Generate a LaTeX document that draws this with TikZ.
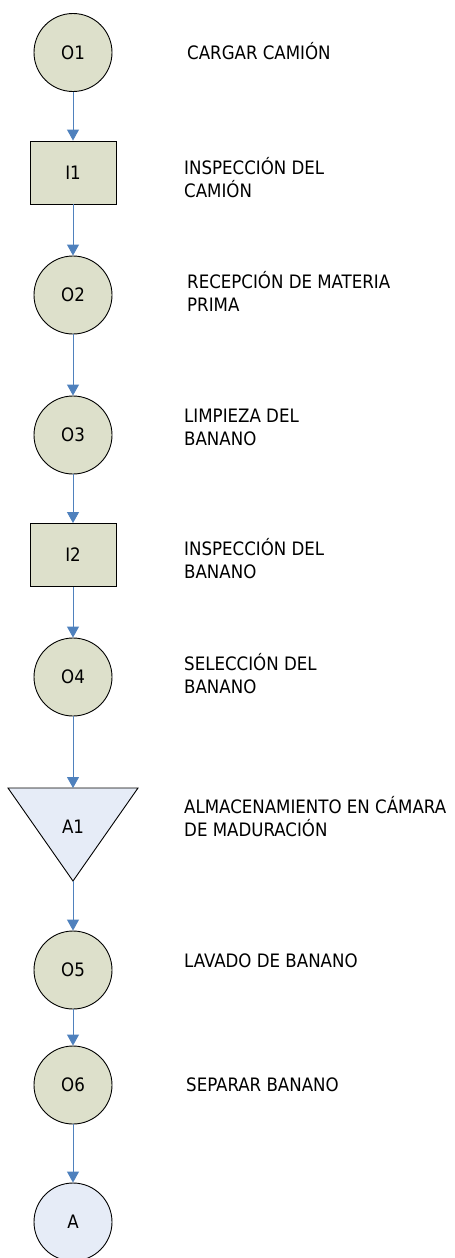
\documentclass[tikz,border=0pt]{standalone}
\usepackage{fontspec}
\setmainfont{DejaVu Sans Condensed}
\usepackage{tikz}
\usetikzlibrary{arrows.meta, positioning}

\definecolor{opfill}{RGB}{221,224,203}
\definecolor{almfill}{RGB}{230,236,247}
\definecolor{linea}{RGB}{79,129,189}

\begin{document}
\begin{tikzpicture}[x=1pt, y=-1pt,
    oper/.style={circle, draw, line width=0.9pt, fill=opfill, minimum size=78pt, inner sep=0pt, font=\fontsize{18.5}{20}\selectfont},
    insp/.style={rectangle, draw, line width=0.9pt, fill=opfill, minimum width=86pt, minimum height=63pt, inner sep=0pt, font=\fontsize{18.5}{20}\selectfont},
    flecha/.style={draw=linea, line width=0.9pt, -{Triangle[width=12pt, length=11pt]}},
    paso/.style={anchor=base west, align=left, inner sep=0pt, font=\fontsize{18.5}{22.5}\selectfont}]
  \useasboundingbox (0,0) rectangle (455,1258);
  % symbols
  \node[oper] (O1) at (73,52.5) {O1};
  \node[insp] (I1) at (73,172.5) {I1};
  \node[oper] (O2) at (73,295) {O2};
  \node[oper] (O3) at (73,435) {O3};
  \node[insp] (I2) at (73,555) {I2};
  \node[oper] (O4) at (73,677) {O4};
  \draw[fill=almfill, line width=0.9pt] (8,788) -- (138,788) -- (73,881) -- cycle;
  \coordinate (A1top) at (73,788);
  \coordinate (A1bot) at (73,881);
  \node[font=\fontsize{18.5}{20}\selectfont] (A1) at (73,827) {A1};
  \node[oper] (O5) at (73,970) {O5};
  \node[oper] (O6) at (73,1085) {O6};
  \node[oper, fill=almfill] (A) at (73,1222) {A};
  % connectors
  \draw[flecha] (O1) -- (I1);
  \draw[flecha] (I1) -- (O2);
  \draw[flecha] (O2) -- (O3);
  \draw[flecha] (O3) -- (I2);
  \draw[flecha] (I2) -- (O4);
  \draw[flecha] (O4) -- (A1top);
  \draw[flecha] (A1bot) -- (O5);
  \draw[flecha] (O5) -- (O6);
  \draw[flecha] (O6) -- (A);
  % descriptions (base = last line)
  \node[paso] (tO1) at (187,59) {CARGAR CAMIÓN};
  \node[paso] (tI1) at (184,197) {INSPECCIÓN DEL\\CAMIÓN};
  \node[paso] (tO2) at (187,311) {RECEPCIÓN DE MATERIA\\PRIMA};
  \node[paso] (tO3) at (184,445) {LIMPIEZA DEL\\BANANO};
  \node[paso] (tI2) at (184,578) {INSPECCIÓN DEL\\BANANO};
  \node[paso] (tO4) at (184,693) {SELECCIÓN DEL\\BANANO};
  \node[paso] (tA1) at (184,836) {ALMACENAMIENTO EN CÁMARA\\DE MADURACIÓN};
  \node[paso] (tO5) at (184,967) {LAVADO DE BANANO};
  \node[paso] (tO6) at (186,1091) {SEPARAR BANANO};
\end{tikzpicture}
\end{document}
